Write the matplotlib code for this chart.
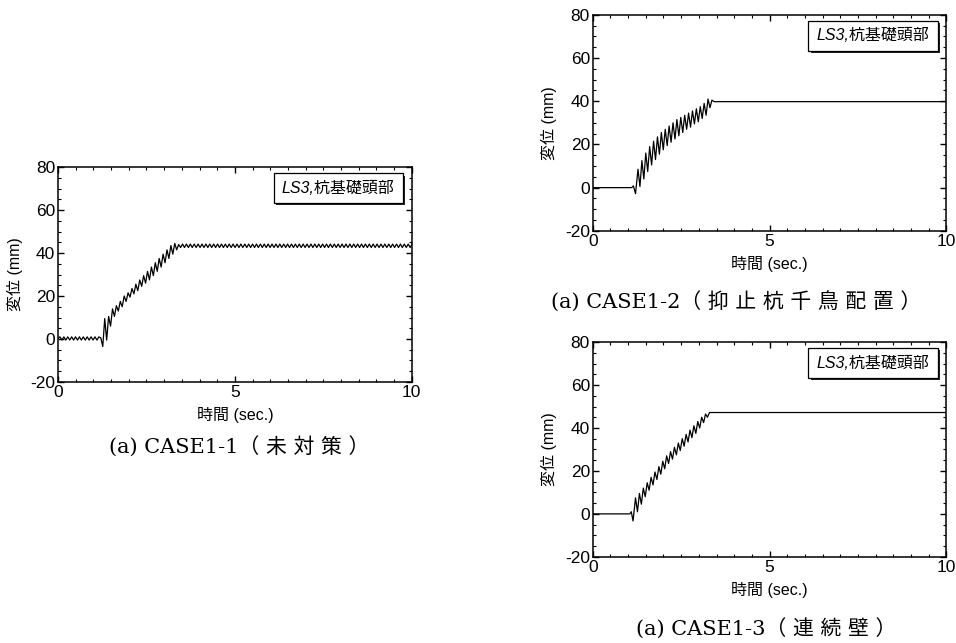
# Displacement time histories at the pile head (LS3), three cases.
import matplotlib.pyplot as plt
import numpy as np
from matplotlib.patches import Rectangle
from matplotlib.ticker import MultipleLocator

plt.rcParams['axes.unicode_minus'] = False
jp_sans = ['Liberation Sans', 'Noto Sans CJK JP']
jp_serif = ['DejaVu Serif', 'Noto Sans CJK JP']

dt1 = 0.055
y1 = [0.3, 1.0, -0.5, 1.0, -0.5, 1.0, -0.5, 1.0, -0.5, 1.0,
      -0.5, 1.0, -0.5, 1.0, -0.5, 1.0, -0.5, 1.0, -0.5, 1.0,
      -0.5, 1.0,
      0.5, -3.5, 9.5, -0.5, 10.5, 6.0, 14.0, 10.5, 15.5, 13.0,
      17.5, 15.0, 20.0, 17.5, 21.5, 19.5, 23.5, 21.0, 25.5, 22.5,
      27.5, 24.5, 29.5, 26.0, 31.5, 27.5, 33.5, 29.5, 35.5, 31.5,
      37.5, 33.5, 39.5, 35.5, 41.5, 37.5, 43.5, 39.5, 44.5, 41.5,
      44.0,
      42.6, 44.2, 42.6, 44.2, 42.6, 44.2, 42.6, 44.2, 42.6, 44.2,
      42.6, 44.2, 42.6, 44.2, 42.6, 44.2, 42.6, 44.2, 42.6, 44.2,
      42.6, 44.2, 42.6, 44.2, 42.6, 44.2, 42.6, 44.2, 42.6, 44.2,
      42.6, 44.2, 42.6, 44.2, 42.6, 44.2, 42.6, 44.2, 42.6, 44.2,
      42.6, 44.2, 42.6, 44.2, 42.6, 44.2, 42.6, 44.2, 42.6, 44.2,
      42.6, 44.2, 42.6, 44.2, 42.6, 44.2, 42.6, 44.2, 42.6, 44.2,
      42.6, 44.2, 42.6, 44.2, 42.6, 44.2, 42.6, 44.2, 42.6, 44.2,
      42.6, 44.2, 42.6, 44.2, 42.6, 44.2, 42.6, 44.2, 42.6, 44.2,
      42.6, 44.2, 42.6, 44.2, 42.6, 44.2, 42.6, 44.2, 42.6, 44.2,
      42.6, 44.2, 42.6, 44.2, 42.6, 44.2, 42.6, 44.2, 42.6, 44.2,
      42.6, 44.2, 42.6, 44.2, 42.6, 44.2, 42.6, 44.2, 42.6, 44.2,
      42.6, 44.2, 42.6, 44.2, 42.6, 44.2, 42.6, 44.2, 42.6, 44.2]
t1 = np.arange(len(y1)) * dt1

# CASE1-2
t2 = [0.0, 1.10, 1.15, 1.21,
      1.28, 1.335, 1.39, 1.445, 1.50, 1.555, 1.61, 1.665, 1.72, 1.775,
      1.83, 1.885, 1.94, 1.995, 2.05, 2.105, 2.16, 2.215, 2.27, 2.325,
      2.38, 2.435, 2.49, 2.545, 2.60, 2.655, 2.71, 2.765, 2.82, 2.875,
      2.93, 2.985, 3.04, 3.095, 3.15, 3.205, 3.26, 3.315,
      3.37, 3.43, 10.0]
y2 = [0.0, 0.0, 0.8, -2.8,
      8.5, 0.5, 12.5, 4.0, 16.0, 7.5, 19.0, 10.5, 21.5, 13.0,
      23.5, 15.5, 25.5, 17.5, 27.0, 19.5, 28.5, 21.0, 30.0, 22.5,
      31.5, 24.0, 32.5, 25.5, 33.5, 27.0, 34.5, 28.0, 35.5, 29.5,
      36.5, 30.5, 37.5, 32.0, 39.0, 33.5, 41.0, 37.0,
      40.5, 39.8, 39.8]

# CASE1-3
t3 = [0.0, 1.05, 1.09, 1.14,
      1.21, 1.265, 1.32, 1.375, 1.43, 1.485, 1.54, 1.595, 1.65, 1.705,
      1.76, 1.815, 1.87, 1.925, 1.98, 2.035, 2.09, 2.145, 2.20, 2.255,
      2.31, 2.365, 2.42, 2.475, 2.53, 2.585, 2.64, 2.695, 2.75, 2.805,
      2.86, 2.915, 2.97, 3.025, 3.08, 3.135, 3.19, 3.245,
      3.30, 10.0]
y3 = [0.0, 0.0, 1.0, -3.3,
      7.5, 1.0, 9.5, 4.5, 12.0, 8.0, 14.5, 11.0, 17.0, 13.5,
      19.5, 16.0, 22.0, 18.5, 24.5, 21.0, 27.0, 23.5, 29.0, 25.5,
      31.0, 27.5, 33.0, 29.5, 35.0, 31.5, 37.0, 33.5, 39.0, 35.5,
      41.0, 37.5, 43.0, 40.0, 45.0, 42.5, 46.5, 45.0,
      47.2, 47.2]

captions = ['(a) CASE1-1（ 未 対 策 ）',
            '(a) CASE1-2（ 抑 止 杭 千 鳥 配 置 ）',
            '(a) CASE1-3（ 連 続 壁 ）']
tag = 'LS3,杭基礎頭部'

fig = plt.figure(figsize=(9.56, 6.43), dpi=100)


def panel(rect, t, y, caption, cap_xy):
    ax = fig.add_axes(rect)
    ax.plot(t, y, color='black', lw=0.9)
    ax.set_xlim(0, 10)
    ax.set_ylim(-20, 80)
    ax.xaxis.set_major_locator(MultipleLocator(5))
    ax.xaxis.set_minor_locator(MultipleLocator(0.5))
    ax.yaxis.set_major_locator(MultipleLocator(20))
    ax.yaxis.set_minor_locator(MultipleLocator(5))
    ax.tick_params(which='both', direction='in', top=True, right=True)
    ax.tick_params(which='major', length=4, width=1, labelsize=12.5)
    ax.tick_params(which='minor', length=2.2, width=0.8)
    ax.tick_params(axis='y', pad=2)
    ax.tick_params(axis='x', pad=2.5)
    for lab in ax.get_xticklabels() + ax.get_yticklabels():
        lab.set_family(jp_sans)
    for s in ax.spines.values():
        s.set_linewidth(1.1)
    ax.set_xlabel('時間 (sec.)', family=jp_sans, fontsize=11.5)
    ax.set_ylabel('変位 (mm)', family=jp_sans, fontsize=11.5)
    ax.xaxis.set_label_coords(0.5, -0.115)
    ax.yaxis.set_label_coords(-0.10, 0.5)

    # label box with a drop shadow
    ax.add_patch(Rectangle((0.616, 0.822), 0.365, 0.139, transform=ax.transAxes,
                           fc='#222222', ec='none', zorder=4, clip_on=False))
    ax.add_patch(Rectangle((0.61, 0.833), 0.365, 0.139, transform=ax.transAxes,
                           fc='white', ec='black', lw=0.9, zorder=5, clip_on=False))
    ax.text(0.7925, 0.9025, tag, transform=ax.transAxes, ha='center', va='center',
            family=jp_sans, style='italic', fontsize=11.5, zorder=6)

    fig.text(cap_xy[0], cap_xy[1], caption, ha='center', va='center',
             family=jp_serif, fontsize=15)
    return ax


panel([0.0607, 0.406, 0.370, 0.334], t1, y1, captions[0], (0.250, 0.305))
panel([0.620, 0.641, 0.370, 0.336], t2, y2, captions[1], (0.770, 0.530))
panel([0.620, 0.134, 0.370, 0.334], t3, y3, captions[2], (0.801, 0.022))

plt.savefig('out.png', dpi=100)
